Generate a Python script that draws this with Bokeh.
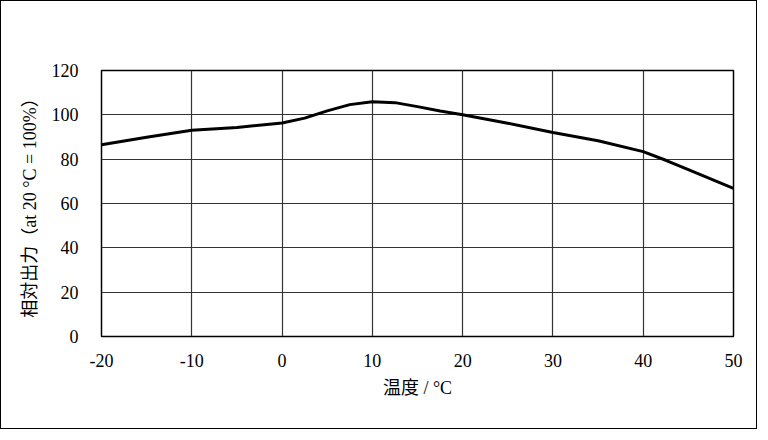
from bokeh.plotting import figure
from bokeh.models import Range1d, FixedTicker
from bokeh.embed import file_html
from bokeh.resources import INLINE

# data
temperature = [-20, -15, -10, -5, 0, 2.5, 5, 7.5, 10, 12.5, 15, 17.5, 20, 25, 30, 35, 40, 42.5, 45, 50]
relative_output = [86.5, 89.9, 93.0, 94.3, 96.3, 98.5, 101.8, 104.6, 105.9, 105.5, 103.7, 101.7, 100.0,
                   96.2, 92.0, 88.3, 83.4, 79.5, 75.3, 66.8]

x_ticks = [-20, -10, 0, 10, 20, 30, 40, 50]
x_tick_labels = ["-20", "-10", "0", "10", "20", "30", "40", "50"]
y_ticks = [0, 20, 40, 60, 80, 100, 120]
y_tick_labels = ["0", "20", "40", "60", "80", "100", "120"]

x_label = "温度 / °C"
y_label = "相対出力（at 20 °C = 100%）"

SERIF = "'Liberation Serif', 'Noto Sans CJK JP'"

W, H = 757, 429
p = figure(width=W, height=H, output_backend="svg", toolbar_location=None,
           x_range=Range1d(-20, 50), y_range=Range1d(0, 120),
           min_border_left=100, min_border_right=25, min_border_top=69, min_border_bottom=94)

p.background_fill_color = "white"
p.border_fill_color = "white"
p.outline_line_color = "black"
p.outline_line_width = 1.5
# outer frame around the whole picture
p.styles = {"border": "1.5px solid black"}

p.line(temperature, relative_output, line_color="black", line_width=3)

for ax, ticks, labels in ((p.xaxis[0], x_ticks, x_tick_labels), (p.yaxis[0], y_ticks, y_tick_labels)):
    ax.ticker = FixedTicker(ticks=ticks)
    ax.major_label_overrides = {t: l for t, l in zip(ticks, labels)}
    ax.major_tick_line_color = None
    ax.minor_tick_line_color = None
    ax.axis_line_color = "black"
    ax.major_label_text_font = SERIF
    ax.major_label_text_font_size = "18px"
    ax.major_label_text_color = "black"
    ax.axis_label_text_font = SERIF
    ax.axis_label_text_font_size = "18px"
    ax.axis_label_text_font_style = "normal"
    ax.axis_label_text_color = "black"

p.xaxis.axis_label = x_label
p.yaxis.axis_label = y_label
p.xaxis.major_label_standoff = 11
p.xaxis.axis_label_standoff = 8
p.yaxis.major_label_standoff = 17
p.yaxis.axis_label_standoff = 9

p.xgrid.ticker = FixedTicker(ticks=x_ticks)
p.ygrid.ticker = FixedTicker(ticks=y_ticks)
for g in (p.xgrid[0], p.ygrid[0]):
    g.grid_line_color = "#333333"
    g.grid_line_width = 1.2

open("out.html", "w").write(file_html(p, INLINE))
